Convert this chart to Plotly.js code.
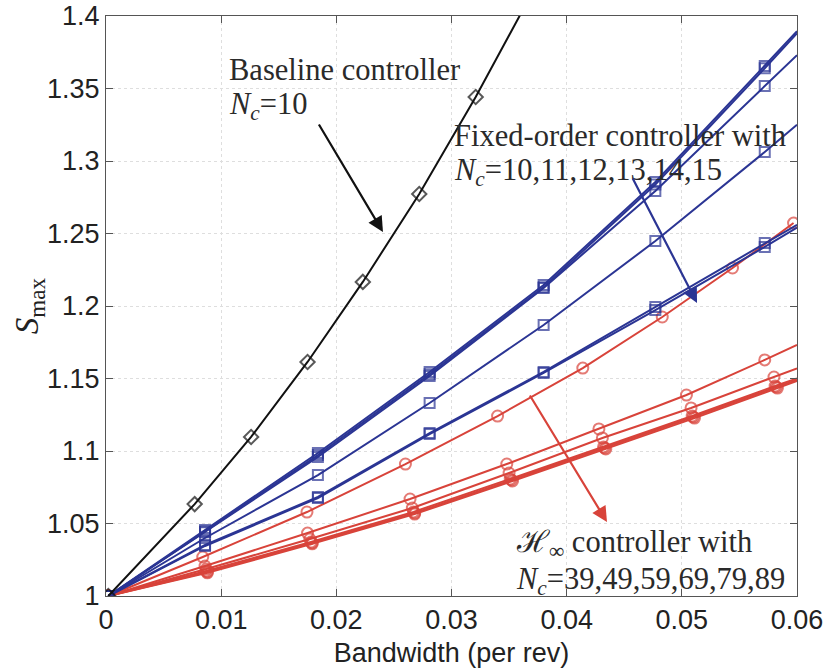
<!DOCTYPE html>
<html>
<head>
<meta charset="utf-8">
<script src="https://cdn.plot.ly/plotly-3.0.1.min.js"></script>
<style>html,body{margin:0;padding:0;background:#fff;}#chart{width:828px;height:668px;}</style>
</head>
<body>
<div id="chart"></div>
<script>
// ---- data ----
var baseX = [0.0002, 0.0077, 0.0126, 0.0175, 0.0223, 0.0272, 0.0321, 0.0370];
var baseY = [1.0, 1.0634, 1.1097, 1.1614, 1.2166, 1.2772, 1.3441, 1.4160];

var fixedX = [0.0002, 0.0086, 0.0184, 0.0281, 0.0380, 0.0477, 0.0572, 0.0600];
var fo10 = [1.0, 1.0455, 1.0986, 1.1545, 1.2145, 1.2855, 1.3655, 1.3895];
var fo11 = [1.0, 1.0445, 1.0972, 1.1530, 1.2130, 1.2838, 1.3640, 1.3880];
var fo12 = [1.0, 1.0440, 1.0959, 1.1517, 1.2124, 1.2793, 1.3517, 1.3730];
var fo13 = [1.0, 1.0400, 1.0834, 1.1331, 1.1869, 1.2448, 1.3062, 1.3250];
var fo14 = [1.0, 1.0352, 1.0683, 1.1124, 1.1545, 1.1993, 1.2434, 1.2560];
var fo15 = [1.0, 1.0345, 1.0676, 1.1117, 1.1538, 1.1972, 1.2407, 1.2540];

var h39X = [0.0002, 0.0084, 0.01745, 0.0260, 0.0340, 0.0414, 0.0483, 0.0544, 0.0597];
var h39Y = [1.0, 1.0269, 1.0579, 1.0910, 1.1241, 1.1572, 1.1924, 1.2262, 1.2572];
var h49X = [0.0002, 0.0086, 0.0175, 0.0264, 0.0348, 0.0428, 0.0504, 0.0572, 0.0600];
var h49Y = [1.0, 1.0207, 1.0434, 1.0669, 1.0910, 1.1152, 1.1386, 1.1628, 1.1731];
var h59X = [0.0002, 0.0087, 0.0177, 0.0266, 0.0350, 0.0431, 0.0508, 0.0580, 0.0600];
var h59Y = [1.0, 1.0186, 1.0393, 1.0607, 1.0848, 1.1090, 1.1297, 1.1510, 1.1570];
var h69X = [0.0002, 0.0087, 0.0178, 0.0267, 0.0351, 0.0432, 0.0509, 0.0581, 0.0600];
var h69Y = [1.0, 1.0172, 1.0372, 1.0580, 1.0807, 1.1028, 1.1241, 1.1448, 1.1500];
var h79X = [0.0002, 0.0088, 0.0179, 0.0268, 0.0352, 0.0433, 0.0510, 0.0582, 0.0600];
var h79Y = [1.0, 1.0166, 1.0366, 1.0572, 1.0800, 1.1020, 1.1234, 1.1441, 1.1490];
var h89X = [0.0002, 0.0088, 0.0179, 0.0268, 0.0353, 0.0434, 0.0511, 0.0583, 0.0600];
var h89Y = [1.0, 1.0160, 1.0360, 1.0565, 1.0793, 1.1014, 1.1227, 1.1434, 1.1483];

var xTicks = [0, 0.01, 0.02, 0.03, 0.04, 0.05, 0.06];
var xTickText = ['0', '0.01', '0.02', '0.03', '0.04', '0.05', '0.06'];
var yTicks = [1, 1.05, 1.1, 1.15, 1.2, 1.25, 1.3, 1.35, 1.4];
var yTickText = ['1', '1.05', '1.1', '1.15', '1.2', '1.25', '1.3', '1.35', '1.4'];

// ---- styles ----
var BLUE = '#2b3594', RED = '#d8433a', BLACK = '#111111';
var XMAX = 0.06;
function sizes(xs, s) { return xs.map(function (v) { return v >= XMAX ? 0 : s; }); }
function tr(xs, ys, color, sym, s) {
  return {
    x: xs, y: ys, type: 'scatter', mode: 'lines+markers',
    line: {color: color, width: 2},
    marker: {symbol: sym, size: sizes(xs, s), color: color, line: {color: color, width: 2}},
    hoverinfo: 'skip', showlegend: false
  };
}

var data = [
  tr(h39X, h39Y, RED, 'circle-open', 11),
  tr(h49X, h49Y, RED, 'circle-open', 11),
  tr(h59X, h59Y, RED, 'circle-open', 11),
  tr(h69X, h69Y, RED, 'circle-open', 11),
  tr(h79X, h79Y, RED, 'circle-open', 11),
  tr(h89X, h89Y, RED, 'circle-open', 11),
  tr(fixedX, fo15, BLUE, 'square-open', 10),
  tr(fixedX, fo14, BLUE, 'square-open', 10),
  tr(fixedX, fo13, BLUE, 'square-open', 10),
  tr(fixedX, fo12, BLUE, 'square-open', 10),
  tr(fixedX, fo11, BLUE, 'square-open', 10),
  tr(fixedX, fo10, BLUE, 'square-open', 10),
  tr(baseX, baseY, BLACK, 'diamond-open', 11)
];

var SERIF = '"Liberation Serif", "DejaVu Serif", serif';
var textFont = {family: SERIF, size: 30.5, color: '#2a2a2a'};
function label(x, y, t) {
  return {x: x, y: y, xref: 'x', yref: 'y', text: t, showarrow: false,
          xanchor: 'left', yanchor: 'middle', font: textFont};
}
function arrow(x0, y0, x1, y1, color) {
  return {x: x1, y: y1, ax: x0, ay: y0, xref: 'x', yref: 'y', axref: 'x', ayref: 'y',
          text: '', showarrow: true, arrowhead: 2, arrowsize: 1.4, arrowwidth: 2.2,
          arrowcolor: color, standoff: 0};
}

var layout = {
  width: 828, height: 668,
  margin: {l: 106, r: 31, t: 16, b: 72},
  paper_bgcolor: '#ffffff', plot_bgcolor: '#ffffff',
  showlegend: false,
  xaxis: {
    range: [0, 0.06], tickvals: xTicks, ticktext: xTickText,
    ticks: 'inside', ticklen: 7, tickcolor: '#555', mirror: 'ticks',
    showline: true, linecolor: '#555', linewidth: 1,
    showgrid: true, gridcolor: '#dedede', griddash: 'dot', gridwidth: 1,
    zeroline: false,
    tickfont: {family: '"Liberation Sans", Arial, sans-serif', size: 27, color: '#222'},
    title: {text: 'Bandwidth (per rev)',
            font: {family: '"Liberation Sans", Arial, sans-serif', size: 27, color: '#222'}}
  },
  yaxis: {
    range: [1, 1.4], tickvals: yTicks, ticktext: yTickText,
    ticks: 'inside', ticklen: 7, tickcolor: '#555', mirror: 'ticks',
    showline: true, linecolor: '#555', linewidth: 1,
    showgrid: true, gridcolor: '#dedede', griddash: 'dot', gridwidth: 1,
    zeroline: false,
    tickfont: {family: '"Liberation Sans", Arial, sans-serif', size: 27, color: '#222'}
  },
  annotations: [
    {xref: 'paper', yref: 'paper', x: -0.111, y: 0.5, text: '<i>S</i><sub>max</sub>',
     textangle: -90, showarrow: false, xanchor: 'center', yanchor: 'middle',
     font: {family: SERIF, size: 33, color: '#222'}},
    label(0.0105, 1.3628, 'Baseline controller'),
    label(0.0105, 1.3379, '<i>N</i><sub><i>c</i></sub>=10'),
    label(0.0300, 1.3172, 'Fixed-order controller with'),
    label(0.0300, 1.2924, '<i>N</i><sub><i>c</i></sub>=10,11,12,13,14,15'),
    label(0.0354, 1.0362, 'ℋ<sub>∞</sub> controller with'),
    label(0.0354, 1.0105, '<i>N</i><sub><i>c</i></sub>=39,49,59,69,79,89'),
    arrow(0.01841, 1.3262, 0.02405, 1.2510, BLACK),
    arrow(0.04567, 1.2890, 0.05132, 1.2021, BLUE),
    arrow(0.03673, 1.1393, 0.04350, 1.0510, RED)
  ]
};

Plotly.newPlot('chart', data, layout, {staticPlot: true, displayModeBar: false});
</script>
</body>
</html>
